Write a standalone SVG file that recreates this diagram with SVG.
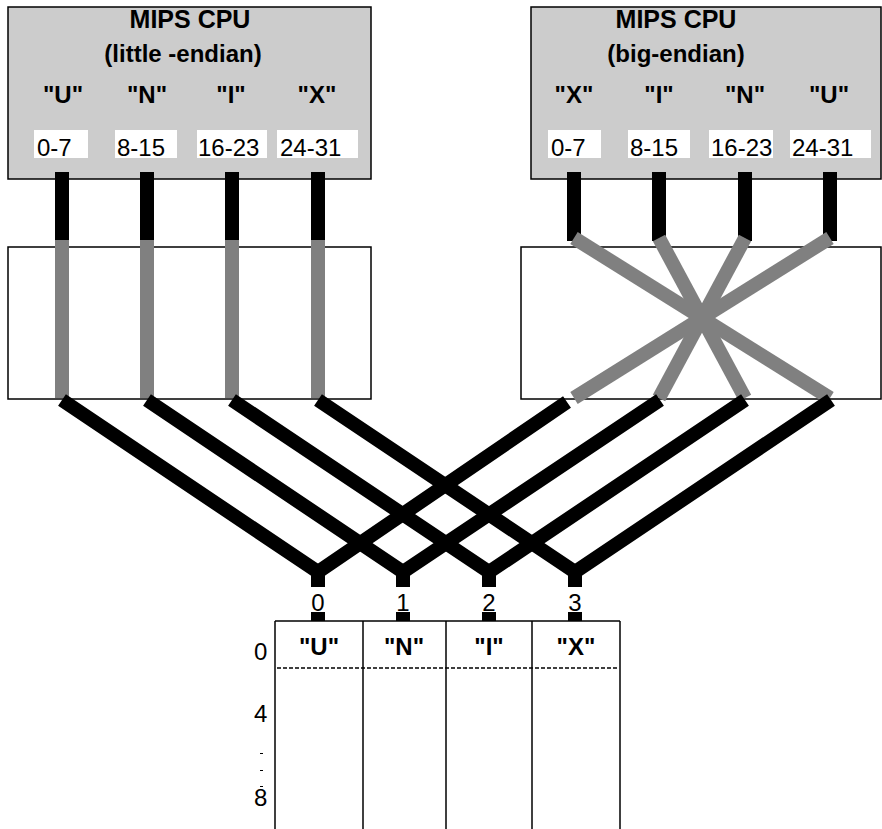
<svg xmlns="http://www.w3.org/2000/svg" width="882" height="829" viewBox="0 0 882 829">
<style>
.cpu{fill:#cccccc;stroke:#000;stroke-width:1.5}
.box{fill:#fff;stroke:#000;stroke-width:1.5}
.wb{fill:#fff}
.t{font-family:"Liberation Sans",Arial,sans-serif;font-size:24px;fill:#000}
.b{font-weight:bold;text-anchor:middle}
.m{text-anchor:middle}
.stub{stroke:#000;stroke-width:14;fill:none}
.gray{stroke:#808080;stroke-width:14;fill:none}
.wire{stroke:#000;stroke-width:14;fill:none;stroke-linejoin:miter;stroke-miterlimit:10}
.ln{stroke:#000;stroke-width:1.5;fill:none}
</style>
<g id="cpu-little">
<rect class="cpu" x="8" y="7" width="363" height="172"/>
<text class="t b" x="190" y="28" style="font-size:25px">MIPS CPU</text>
<text class="t b" x="183" y="62">(little -endian)</text>
<text class="t b" x="63" y="103">"U"</text>
<text class="t b" x="147" y="103">"N"</text>
<text class="t b" x="231" y="103">"I"</text>
<text class="t b" x="317" y="103">"X"</text>
<rect class="wb" x="34" y="130" width="54" height="28"/>
<rect class="wb" x="115" y="130" width="62" height="28"/>
<rect class="wb" x="197" y="130" width="70" height="28"/>
<rect class="wb" x="277" y="130" width="81" height="28"/>
<text class="t" x="37" y="156">0-7</text>
<text class="t" x="117" y="156">8-15</text>
<text class="t" x="198" y="156">16-23</text>
<text class="t" x="280" y="156">24-31</text>
</g>
<g id="cpu-big">
<rect class="cpu" x="531" y="7" width="350" height="172"/>
<text class="t b" x="676" y="28" style="font-size:25px">MIPS CPU</text>
<text class="t b" x="676" y="62">(big-endian)</text>
<text class="t b" x="574" y="103">"X"</text>
<text class="t b" x="659" y="103">"I"</text>
<text class="t b" x="745" y="103">"N"</text>
<text class="t b" x="829" y="103">"U"</text>
<rect class="wb" x="548" y="130" width="53" height="28"/>
<rect class="wb" x="628" y="130" width="62" height="28"/>
<rect class="wb" x="709" y="130" width="64" height="28"/>
<rect class="wb" x="790" y="130" width="81" height="28"/>
<text class="t" x="551" y="156">0-7</text>
<text class="t" x="630" y="156">8-15</text>
<text class="t" x="711" y="156">16-23</text>
<text class="t" x="792" y="156">24-31</text>
</g>
<g id="bus-little">
<rect class="box" x="8" y="247" width="363" height="152"/>
</g>
<g id="bus-big">
<rect class="box" x="521" y="247" width="360" height="152"/>
</g>
<g id="memory">
<line class="ln" x1="275" y1="621" x2="620" y2="621"/>
<line class="ln" x1="275" y1="621" x2="275" y2="829"/>
<line class="ln" x1="363" y1="621" x2="363" y2="829"/>
<line class="ln" x1="446" y1="621" x2="446" y2="829"/>
<line class="ln" x1="532" y1="621" x2="532" y2="829"/>
<line class="ln" x1="620" y1="621" x2="620" y2="829"/>
<line x1="277" y1="668" x2="619" y2="668" stroke="#000" stroke-width="1.5" stroke-dasharray="4,2"/>
<text class="t b" x="319" y="655">"U"</text>
<text class="t b" x="404" y="655">"N"</text>
<text class="t b" x="489" y="655">"I"</text>
<text class="t b" x="576" y="655">"X"</text>
<text class="t" x="254" y="660">0</text>
<text class="t" x="254" y="722">4</text>
<text class="t" x="254" y="806">8</text>
<g stroke="#000" stroke-width="1">
<line x1="260" y1="753.5" x2="263" y2="753.5"/>
<line x1="260" y1="770.5" x2="263" y2="770.5"/>
<line x1="260" y1="786.5" x2="263" y2="786.5"/>
</g>
<text class="t m" x="318" y="611">0</text>
<text class="t m" x="403" y="611">1</text>
<text class="t m" x="489" y="611">2</text>
<text class="t m" x="575" y="611">3</text>
</g>
<g id="connectors">
<g class="stub">
<line x1="62" y1="172" x2="62" y2="241"/>
<line x1="147" y1="172" x2="147" y2="241"/>
<line x1="232" y1="172" x2="232" y2="241"/>
<line x1="318" y1="172" x2="318" y2="241"/>
<line x1="574" y1="172" x2="574" y2="241"/>
<line x1="659" y1="172" x2="659" y2="241"/>
<line x1="745" y1="172" x2="745" y2="241"/>
<line x1="830" y1="172" x2="830" y2="241"/>
</g>
<g class="gray">
<line x1="62" y1="240" x2="62" y2="398"/>
<line x1="147" y1="240" x2="147" y2="398"/>
<line x1="232" y1="240" x2="232" y2="398"/>
<line x1="318" y1="240" x2="318" y2="398"/>
<line x1="574" y1="238" x2="830" y2="398"/>
<line x1="659" y1="238" x2="745" y2="398"/>
<line x1="745" y1="238" x2="659" y2="398"/>
<line x1="830" y1="238" x2="574" y2="398"/>
</g>
<g class="wire">
<polyline points="62,400 318,572 318,587"/>
<polyline points="147,400 403,572 403,587"/>
<polyline points="232,400 489,572 489,587"/>
<polyline points="318,400 575,572 575,587"/>
<polyline points="567,402 318,572 318,587"/>
<polyline points="660,400 403,572 403,587"/>
<polyline points="745,400 489,572 489,587"/>
<polyline points="831,400 575,572 575,587"/>
</g>
<g fill="#000">
<rect x="311" y="612" width="14" height="9"/>
<rect x="396" y="612" width="14" height="9"/>
<rect x="482" y="612" width="14" height="9"/>
<rect x="568" y="612" width="14" height="9"/>
</g>
</g>
</svg>
